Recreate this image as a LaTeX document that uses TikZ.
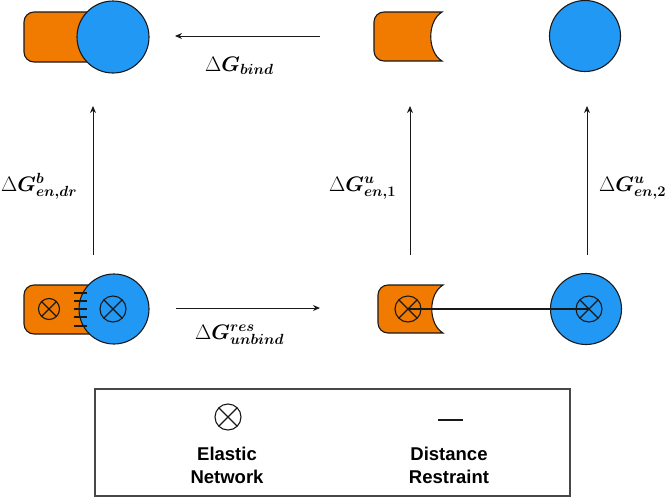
\RequirePackage{fix-cm}
\documentclass[tikz,border=0pt]{standalone}
\usepackage{amsmath,bm}
\usepackage[no-math]{fontspec}
\newfontfamily\legfont{Liberation Sans}
\usetikzlibrary{arrows.meta}
\definecolor{orng}{RGB}{241,122,0}
\definecolor{blu}{RGB}{34,152,245}
\definecolor{edgec}{RGB}{25,25,25}
\tikzset{
  outl/.style={draw=edgec, line width=1.1pt},
  bluecirc/.style={circle, outl, fill=blu, inner sep=0pt},
  arr/.style={draw=edgec, line width=1pt, -{Stealth[length=7pt,width=6pt]}},
  lbl/.style={anchor=base west, inner sep=0pt, font=\fontsize{21}{25}\selectfont},
  legtext/.style={font=\legfont\bfseries\fontsize{18.5}{23}\selectfont, align=center},
  xc/.pic={\draw[edgec, line width=1.1pt] (0,0) circle (#1) (45:#1) -- (225:#1) (135:#1) -- (-45:#1);},
  xc/.default=13,
  tick/.style={draw=edgec, line width=1.1pt}
}
\begin{document}
\begin{tikzpicture}[x=1pt,y=-1pt]
\useasboundingbox (0,0) rectangle (666,498);
% ---------- top row ----------
\fill[orng, outl] (100,12) [rounded corners=10pt] -- (24,12) -- (24,62) [sharp corners] -- (100,62) -- cycle;
\node[bluecirc, minimum size=72pt] (tlb) at (113,37) {};
\fill[orng, outl] (442,12) [rounded corners=10pt] -- (374,12) -- (374,61) [sharp corners] -- (442,61)
  .. controls (427,52) and (427,21) .. (442,12) -- cycle;
\node[bluecirc, minimum size=71pt] (trb) at (585,36) {};
\coordinate (tas) at (320,36);
\coordinate (tae) at (175,36);
\draw[arr] (tas) -- (tae);
\node[lbl] (lbind) at (205,71) {$\Delta\bm{G}_{\bm{bind}}$};
% ---------- verticals ----------
\coordinate (v1s) at (93,255);   \coordinate (v1e) at (93,106);
\coordinate (v2s) at (410,255);  \coordinate (v2e) at (410,106);
\coordinate (v3s) at (587,255);  \coordinate (v3e) at (587,106);
\draw[arr] (v1s) -- (v1e);
\draw[arr] (v2s) -- (v2e);
\draw[arr] (v3s) -- (v3e);
\node[lbl] (l1) at (1,191) {$\Delta\bm{G}^{\bm{b}}_{\bm{en,dr}}$};
\node[lbl] (l2) at (329,191) {$\Delta\bm{G}^{\bm{u}}_{\bm{en,1}}$};
\node[lbl] (l3) at (599,191) {$\Delta\bm{G}^{\bm{u}}_{\bm{en,2}}$};
% ---------- bottom row ----------
\fill[orng, outl] (100,285) [rounded corners=10pt] -- (24,285) -- (24,334) [sharp corners] -- (100,334) -- cycle;
\node[bluecirc, minimum size=70pt] (blb) at (114,309) {};
\coordinate (bc1) at (49,309);
\coordinate (bc2) at (113,309);
\pic at (bc1) {xc=10.5};
\pic at (bc2) {xc=13};
\foreach \yy in {293,301,309,317,326} \draw[tick] (74,\yy) -- (87,\yy);
\fill[orng, outl] (443,285) [rounded corners=10pt] -- (378,285) -- (378,333) [sharp corners] -- (443,333)
  .. controls (428,324) and (428,294) .. (443,285) -- cycle;
\node[bluecirc, minimum size=71pt] (brb) at (586,309) {};
\coordinate (mc1) at (408,309);
\coordinate (mc2) at (589,309);
\pic at (mc1) {xc=13};
\pic at (mc2) {xc=13};
\draw[edgec, line width=1.1pt] (mc1) -- (mc2);
\coordinate (bas) at (176,308);
\coordinate (bae) at (320,308);
\draw[arr] (bas) -- (bae);
\node[lbl] (lunb) at (195,339) {$\Delta\bm{G}^{\bm{res}}_{\bm{unbind}}$};
% ---------- legend ----------
\node[draw=edgec!80, line width=1.2pt, minimum width=475pt, minimum height=107pt, inner sep=0pt] (leg) at (332.5,442.5) {};
\coordinate (lgc) at (228,417);
\pic at (lgc) {xc=13};
\coordinate (lds) at (438,420);
\coordinate (lde) at (463,420);
\draw[edgec, line width=1.1pt] (lds) -- (lde);
\node[legtext] (t1) at (227,465) {Elastic\\Network};
\node[legtext] (t2) at (449,465) {Distance\\Restraint};
\end{tikzpicture}
\end{document}
